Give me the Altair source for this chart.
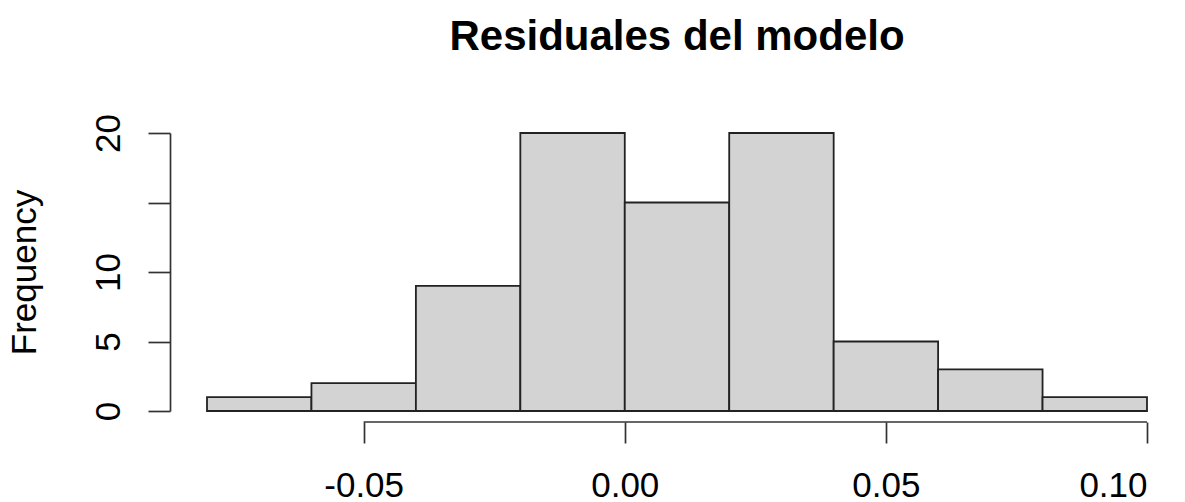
import altair as alt
import pandas as pd

# Histogram of model residuals: bin edges and counts per bin
bin_starts = [-0.08, -0.06, -0.04, -0.02, 0.00, 0.02, 0.04, 0.06, 0.08]
bin_ends = [-0.06, -0.04, -0.02, 0.00, 0.02, 0.04, 0.06, 0.08, 0.10]
counts = [1, 2, 9, 20, 15, 20, 5, 3, 1]

x_ticks = [-0.05, 0.00, 0.05, 0.10]
y_ticks = [0, 5, 10, 15, 20]
# tick at 15 is drawn but left unlabelled (label would crowd its neighbours)
y_hidden_labels = [15]

bars_df = pd.DataFrame({"start": bin_starts, "end": bin_ends, "count": counts})
axis_df = pd.DataFrame({"lo": [min(x_ticks)], "hi": [max(x_ticks)]})

FONT = "Liberation Sans"
AXIS_COLOR = "#333333"
W, H = 940, 278

x_scale = alt.Scale(domain=[-0.08, 0.10], nice=False, zero=False)
y_scale = alt.Scale(domain=[0, 20], nice=False)

hidden_test = " || ".join(f"datum.value == {v}" for v in y_hidden_labels)

bars = alt.Chart(bars_df).mark_rect(
    fill="#D3D3D3", stroke="#222222", strokeWidth=1.8
).encode(
    x=alt.X(
        "start:Q",
        scale=x_scale,
        axis=alt.Axis(
            values=x_ticks,
            labelExpr="replace(format(datum.value, '.2f'), '\u2212', '-')",
            domain=False,
            grid=False,
            offset=11,
            tickSize=21,
            tickWidth=1.7,
            tickColor=AXIS_COLOR,
            labelFont=FONT,
            labelFontSize=35,
            labelColor="black",
            labelBaseline="alphabetic",
            labelPadding=53,
            title=None,
        ),
    ),
    x2="end:Q",
    y=alt.Y(
        "count:Q",
        scale=y_scale,
        axis=alt.Axis(
            values=y_ticks,
            labelExpr=f"({hidden_test}) ? '' : datum.label",
            domain=True,
            domainColor=AXIS_COLOR,
            domainWidth=1.7,
            grid=False,
            offset=37,
            tickSize=22,
            tickWidth=1.7,
            tickColor=AXIS_COLOR,
            labelFont=FONT,
            labelFontSize=35,
            labelColor="black",
            labelAngle=-90,
            labelAlign="center",
            labelBaseline="alphabetic",
            labelPadding=29,
            title="Frequency",
            titleFont=FONT,
            titleFontSize=35,
            titleFontWeight="normal",
            titleColor="black",
            titleAngle=-90,
            titleAlign="center",
            titleBaseline="alphabetic",
            titleX=-135,
            titleY=H / 2,
        ),
    ),
    y2=alt.datum(0),
)

# x axis line spanning only the labelled tick range
x_axis_line = alt.Chart(axis_df).mark_rule(
    color=AXIS_COLOR, strokeWidth=1.7
).encode(
    x=alt.X("lo:Q", scale=x_scale),
    x2="hi:Q",
    y=alt.value(H + 11),
)

chart = (
    alt.layer(bars, x_axis_line)
    .properties(
        width=W,
        height=H,
        title=alt.TitleParams(
            "Residuales del modelo",
            font=FONT,
            fontSize=42,
            fontWeight="bold",
            color="black",
            anchor="middle",
            frame="group",
            baseline="alphabetic",
            offset=22,
        ),
        autosize=alt.AutoSizeParams(type="none"),
        padding={"left": 207, "top": 133, "right": 38, "bottom": 91},
        background="white",
    )
    .configure_view(stroke=None)
)

chart.save("out.html", embed_options={"renderer": "svg", "actions": False})
